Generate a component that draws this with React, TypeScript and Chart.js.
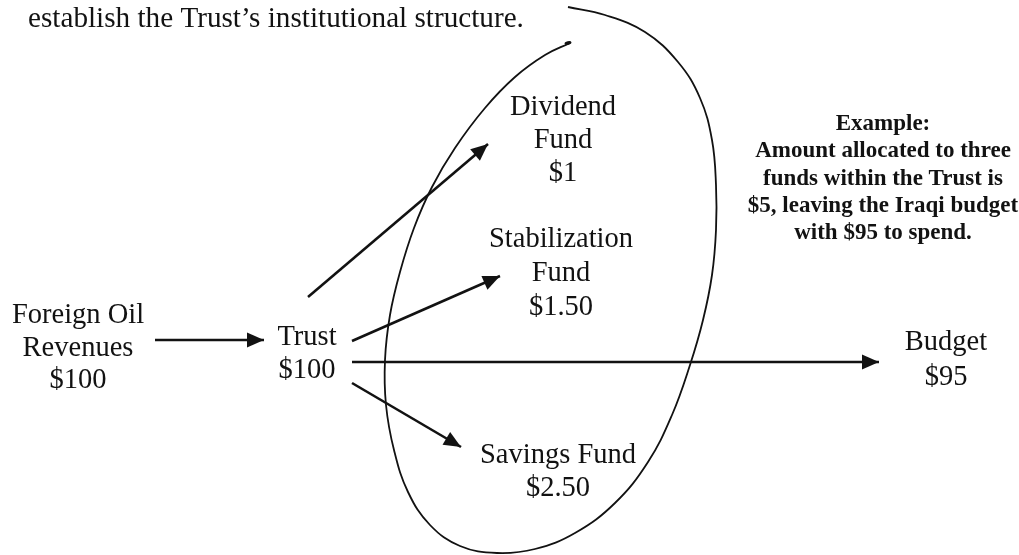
import React, { useEffect, useRef } from "react";
import { Chart, registerables } from "chart.js";

Chart.register(...registerables);

// Diagram space: x 0..1019 (left→right), y 0..555 (top→bottom)
const headerText = "establish the Trust\u2019s institutional structure.";
const headerPos = [28, 27];

// Node labels (lines), their centre x, first baseline y, and line gap
const nodeLines: string[][] = [
  ["Foreign Oil", "Revenues", "$100"],
  ["Trust", "$100"],
  ["Dividend", "Fund", "$1"],
  ["Stabilization", "Fund", "$1.50"],
  ["Savings Fund", "$2.50"],
  ["Budget", "$95"],
];
const nodeX = [78, 307, 563, 561, 558, 946];
const nodeBaseY = [323, 345, 115, 247, 463, 350];
const nodeGap = [32.5, 33, 33, 34, 33, 35];

// Example note
const noteLines = [
  "Example:",
  "Amount allocated to three",
  "funds within the Trust is",
  "$5, leaving the Iraqi budget",
  "with $95 to spend.",
];
const noteX = 883;
const noteBaseY = 130;
const noteGap = 27.3;

// Arrows: start and tip
const arrowFromX = [155, 308, 352, 352, 352];
const arrowFromY = [340, 297, 341, 362, 383];
const arrowToX = [264, 488, 500, 879, 461];
const arrowToY = [340, 144, 276, 362, 447];

// Hand-drawn loop around the three funds (traced)
const loopX = [568, 605, 645, 678, 700, 712, 716, 716, 712, 703, 690, 672, 648, 615, 575, 535, 497, 460, 430, 408, 394, 386, 385, 390, 400, 414, 432, 455, 485, 515, 545, 570];
const loopY = [7, 15, 32, 62, 98, 140, 185, 230, 275, 320, 365, 415, 462, 503, 533, 549, 553, 546, 525, 492, 450, 405, 360, 315, 272, 228, 187, 148, 108, 77, 55, 43];

const SERIF = '"Liberation Serif", "Times New Roman", Times, serif';
const INK = "#121212";

export default function App() {
  const ref = useRef<HTMLCanvasElement | null>(null);

  useEffect(() => {
    if (!ref.current) return;

    const loopData = loopX.map((x, i) => ({ x, y: loopY[i] }));
    const arrowSets = arrowFromX.map((fx, i) => ({
      label: "arrow" + i,
      data: [
        { x: fx, y: arrowFromY[i] },
        { x: arrowToX[i], y: arrowToY[i] },
      ],
      showLine: true,
      borderColor: INK,
      borderWidth: 2.6,
      pointRadius: 0,
      tension: 0,
      isArrow: true,
    }));

    const textPlugin = {
      id: "diagramText",
      afterDatasetsDraw(chart: any) {
        const ctx = chart.ctx;
        const xs = chart.scales.x;
        const ys = chart.scales.y;
        ctx.save();
        // arrowheads
        chart.data.datasets.forEach((ds: any) => {
          if (!ds.isArrow) return;
          const a = ds.data[0];
          const b = ds.data[1];
          const x1 = xs.getPixelForValue(a.x), y1 = ys.getPixelForValue(a.y);
          const x2 = xs.getPixelForValue(b.x), y2 = ys.getPixelForValue(b.y);
          const ang = Math.atan2(y2 - y1, x2 - x1);
          const L = 17, W = 7.5;
          ctx.fillStyle = INK;
          ctx.beginPath();
          ctx.moveTo(x2, y2);
          ctx.lineTo(x2 - L * Math.cos(ang) + W * Math.sin(ang), y2 - L * Math.sin(ang) - W * Math.cos(ang));
          ctx.lineTo(x2 - L * Math.cos(ang) - W * Math.sin(ang), y2 - L * Math.sin(ang) + W * Math.cos(ang));
          ctx.closePath();
          ctx.fill();
        });
        // small ink blob at the loop's inner end
        const endX = xs.getPixelForValue(loopX[loopX.length - 1]);
        const endY = ys.getPixelForValue(loopY[loopY.length - 1]);
        ctx.beginPath();
        ctx.ellipse(endX - 2, endY, 3.5, 1.8, -0.2, 0, Math.PI * 2);
        ctx.fill();

        ctx.fillStyle = INK;
        ctx.textBaseline = "alphabetic";
        // header
        ctx.font = `29.2px ${SERIF}`;
        ctx.textAlign = "left";
        ctx.fillText(headerText, xs.getPixelForValue(headerPos[0]), ys.getPixelForValue(headerPos[1]));
        // nodes
        ctx.font = `28.5px ${SERIF}`;
        ctx.textAlign = "center";
        nodeLines.forEach((lines, i) => {
          lines.forEach((t, j) => {
            ctx.fillText(t, xs.getPixelForValue(nodeX[i]), ys.getPixelForValue(nodeBaseY[i] + j * nodeGap[i]));
          });
        });
        // note
        ctx.font = `bold 23px ${SERIF}`;
        noteLines.forEach((t, j) => {
          ctx.fillText(t, xs.getPixelForValue(noteX), ys.getPixelForValue(noteBaseY + j * noteGap));
        });
        ctx.restore();
      },
    };

    const chart = new Chart(ref.current, {
      type: "scatter",
      data: {
        datasets: [
          {
            label: "funds loop",
            data: loopData,
            showLine: true,
            borderColor: INK,
            borderWidth: 1.8,
            pointRadius: 0,
            tension: 0.4,
          } as any,
          ...(arrowSets as any[]),
        ],
      },
      options: {
        animation: false,
        responsive: false,
        devicePixelRatio: 1,
        events: [],
        layout: { padding: 0 },
        plugins: { legend: { display: false }, tooltip: { enabled: false }, title: { display: false } },
        scales: {
          x: { type: "linear", min: 0, max: 1019, display: false },
          y: { type: "linear", min: 0, max: 555, reverse: true, display: false },
        },
      },
      plugins: [textPlugin],
    });
    return () => chart.destroy();
  }, []);

  return (
    <div style={{ position: "absolute", left: 0, top: 0, width: 1019, height: 555, background: "#ffffff" }}>
      <canvas ref={ref} width={1019} height={555} style={{ display: "block", width: 1019, height: 555 }} />
    </div>
  );
}
